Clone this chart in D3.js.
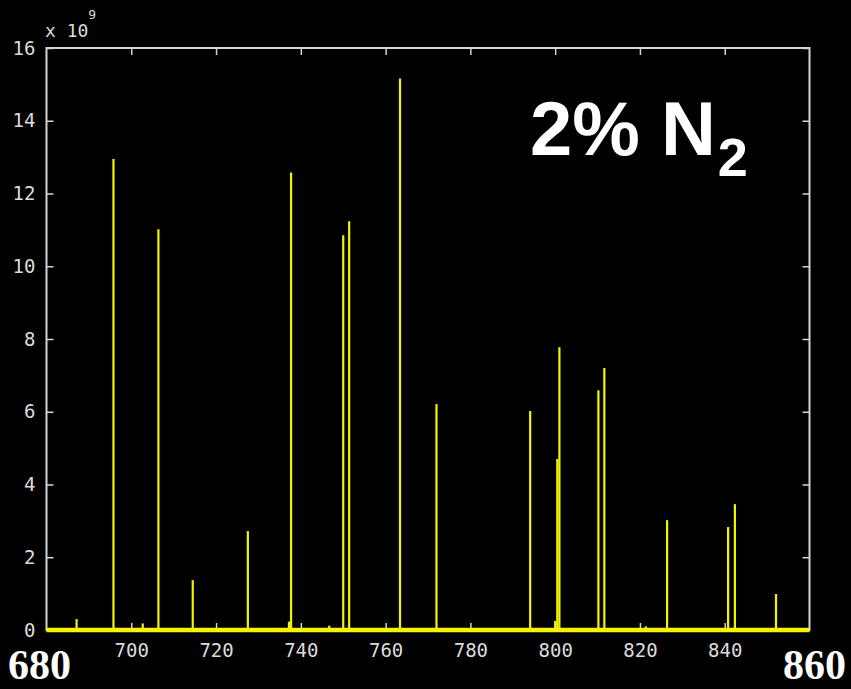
<!DOCTYPE html>
<html>
<head>
<meta charset="utf-8">
<script src="https://cdn.jsdelivr.net/npm/d3@7"></script>
<style>
  html, body { margin: 0; padding: 0; background: #000; }
  svg { display: block; }
</style>
</head>
<body>
<script>
// Emission line positions (nm) and intensities (x 10^9)
const wavelengths = [687.1, 695.8, 702.7, 706.4, 714.5, 727.5, 737.2, 737.7, 746.7, 750.0, 751.4,
                     763.4, 772.0, 794.1, 800.0, 800.5, 801.0, 810.2, 811.6, 821.4, 826.4,
                     840.8, 842.4, 852.1];
const intensities = [0.30, 12.95, 0.18, 11.02, 1.37, 2.72, 0.23, 12.58, 0.12, 10.85, 11.24,
                     15.16, 6.21, 6.02, 0.25, 4.70, 7.77, 6.59, 7.20, 0.10, 3.02,
                     2.83, 3.46, 0.99];
const xTicks = [700, 720, 740, 760, 780, 800, 820, 840];
const yTicks = [0, 2, 4, 6, 8, 10, 12, 14, 16];
const xRangeLabels = ["680", "860"];
const titleMain = "2% N";
const titleSub = "2";

const W = 851, H = 689;
const margin = { left: 46.5, right: 41.5, top: 48, bottom: 59 };
const x0 = margin.left, x1 = W - margin.right;
const y0 = H - margin.bottom, y1 = margin.top;

const svg = d3.select("body").append("svg")
  .attr("width", W).attr("height", H)
  .style("background", "#000");

svg.append("rect").attr("width", W).attr("height", H).attr("fill", "#000");

const x = d3.scaleLinear().domain([680, 860]).range([x0, x1]);
const y = d3.scaleLinear().domain([0, 16]).range([y0, y1]);

const axisColor = "#d4d4d4";
const tickFont = "'DejaVu Sans Mono', monospace";

function styleAxis(g) {
  g.select(".domain").remove();
  g.selectAll(".tick line").attr("stroke", axisColor).attr("stroke-width", 1.5);
  g.selectAll(".tick text").attr("fill", "#dcdcdc")
    .style("font-family", tickFont).style("font-size", "19px");
}

// bottom axis with labels
svg.append("g").attr("transform", `translate(0,${y0})`)
  .call(d3.axisBottom(x).tickValues(xTicks).tickSize(-7).tickPadding(14).tickFormat(d3.format("d")))
  .call(styleAxis);
// top axis, ticks only
svg.append("g").attr("transform", `translate(0,${y1})`)
  .call(d3.axisTop(x).tickValues(xTicks).tickSize(-7).tickFormat(""))
  .call(styleAxis);
// left axis with labels
svg.append("g").attr("transform", `translate(${x0},0)`)
  .call(d3.axisLeft(y).tickValues(yTicks).tickSize(-7).tickPadding(11).tickFormat(d3.format("d")))
  .call(styleAxis);
// right axis, ticks only
svg.append("g").attr("transform", `translate(${x1},0)`)
  .call(d3.axisRight(y).tickValues(yTicks).tickSize(-7).tickFormat(""))
  .call(styleAxis);

// frame
svg.append("rect")
  .attr("x", x0).attr("y", y1).attr("width", x1 - x0).attr("height", y0 - y1)
  .attr("fill", "none").attr("stroke", axisColor).attr("stroke-width", 2);

// exponent label
const expo = svg.append("text")
  .attr("x", 45).attr("y", 37)
  .attr("fill", "#dcdcdc")
  .style("font-family", tickFont).style("font-size", "18px");
expo.append("tspan").text("x 10");
expo.append("tspan").attr("dy", -18).style("font-size", "13px").text("9");

// spectral lines
const yellow = "#f4f400";
svg.append("g").selectAll("line")
  .data(wavelengths.map((w, i) => ({ w, v: intensities[i] })))
  .join("line")
  .attr("x1", d => x(d.w)).attr("x2", d => x(d.w))
  .attr("y1", y(0)).attr("y2", d => y(d.v))
  .attr("stroke", yellow).attr("stroke-width", 2.2);

// baseline
svg.append("line")
  .attr("x1", x0).attr("x2", x1).attr("y1", y(0)).attr("y2", y(0))
  .attr("stroke", yellow).attr("stroke-width", 4.5);

// range labels
const rangeFont = "'Liberation Serif', 'Times New Roman', serif";
svg.append("text").attr("x", 8).attr("y", 679)
  .attr("fill", "#fff")
  .style("font-family", rangeFont)
  .style("font-weight", "bold").style("font-size", "42px")
  .text(xRangeLabels[0]);
svg.append("text").attr("x", 846).attr("y", 679)
  .attr("text-anchor", "end")
  .attr("fill", "#fff")
  .style("font-family", rangeFont)
  .style("font-weight", "bold").style("font-size", "42px")
  .text(xRangeLabels[1]);

// title
const title = svg.append("text").attr("x", 530).attr("y", 155)
  .attr("fill", "#fff")
  .style("font-family", "'Liberation Sans', Arial, sans-serif")
  .style("font-weight", "bold").style("font-size", "76px");
title.append("tspan").text(titleMain);
title.append("tspan").attr("dx", 2).attr("dy", 21).style("font-size", "54px").text(titleSub);
</script>
</body>
</html>
